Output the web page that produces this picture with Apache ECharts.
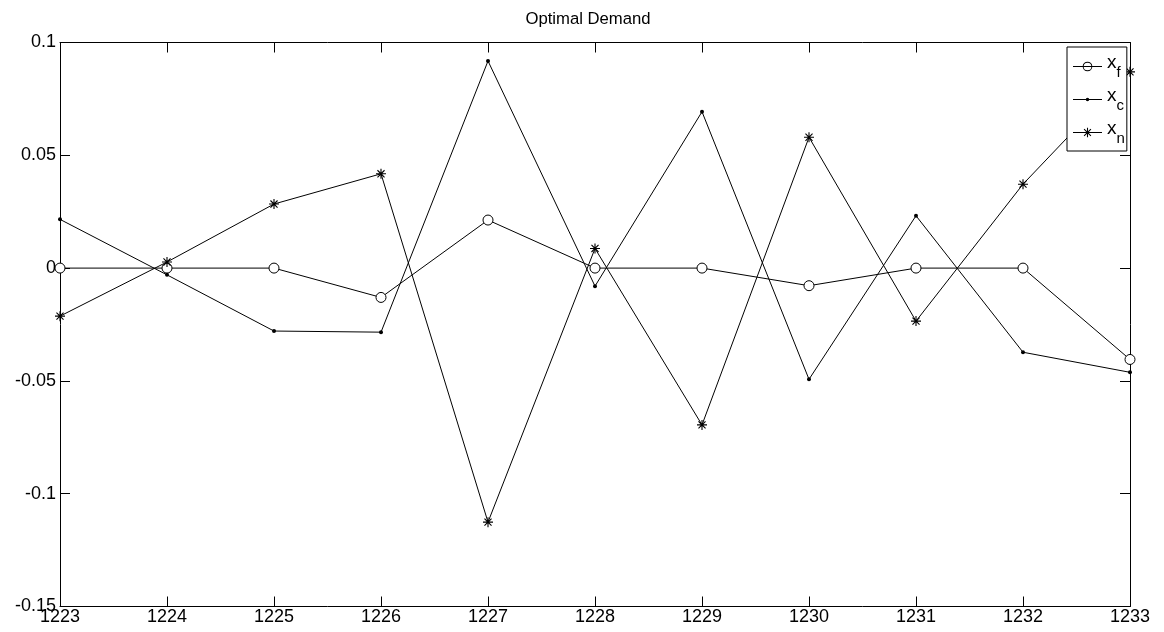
<!DOCTYPE html>
<html>
<head>
<meta charset="utf-8">
<title>Optimal Demand</title>
<script src="https://cdn.jsdelivr.net/npm/echarts@6/dist/echarts.min.js"></script>
<style>
  html, body { margin: 0; padding: 0; background: #fff; }
  #chart { width: 1164px; height: 632px; }
</style>
</head>
<body>
<div id="chart"></div>
<script>
// Periods on the horizontal axis
const periods = [1223, 1224, 1225, 1226, 1227, 1228, 1229, 1230, 1231, 1232, 1233];

// Demand series
const xF = [0, 0, 0, -0.013, 0.0213, 0, 0, -0.0078, 0, 0, -0.0405];
const xC = [0.0216, -0.003, -0.0279, -0.0284, 0.0918, -0.008, 0.0693, -0.0493, 0.0232, -0.0373, -0.0462];
const xN = [-0.0213, 0.0027, 0.0284, 0.0418, -0.1126, 0.0087, -0.0695, 0.058, -0.0235, 0.0372, 0.087];

// Axis ticks
const yTicks = [-0.15, -0.1, -0.05, 0, 0.05, 0.1];
const yTickLabels = ['-0.15', '-0.1', '-0.05', '0', '0.05', '0.1'];

const seriesNames = ['x_f', 'x_c', 'x_n'];
const subscripts = { x_f: 'f', x_c: 'c', x_n: 'n' };

const font = 'Liberation Sans, Arial, Helvetica, sans-serif';

// --- marker shapes as filled paths ---
function fmt(n) { return (Math.round(n * 100) / 100).toString(); }

// eight-armed star: four thin bars crossing at (cx, cy), all wound the same way
function starPath(cx, cy, r, w) {
  let d = '';
  const angles = [0, Math.PI / 4, Math.PI / 2, 3 * Math.PI / 4];
  angles.forEach(a => {
    const ux = Math.cos(a), uy = Math.sin(a);
    const px = -uy * w, py = ux * w;
    const pts = [
      [cx - ux * r - px, cy - uy * r - py],
      [cx + ux * r - px, cy + uy * r - py],
      [cx + ux * r + px, cy + uy * r + py],
      [cx - ux * r + px, cy - uy * r + py]
    ];
    d += 'M' + pts.map(p => fmt(p[0]) + ' ' + fmt(p[1])).join('L') + 'Z';
  });
  return d;
}
// horizontal bar used as the line sample in the legend
function barPath(x0, x1, cy, h) {
  return 'M' + x0 + ' ' + fmt(cy - h / 2) + 'L' + x1 + ' ' + fmt(cy - h / 2) +
    'L' + x1 + ' ' + fmt(cy + h / 2) + 'L' + x0 + ' ' + fmt(cy + h / 2) + 'Z';
}
// ring (outer clockwise, inner counter-clockwise)
function ringPath(cx, cy, r, t) {
  const ri = r - t;
  return 'M' + fmt(cx + r) + ' ' + cy + 'A' + r + ' ' + r + ' 0 1 1 ' + fmt(cx - r) + ' ' + cy +
    'A' + r + ' ' + r + ' 0 1 1 ' + fmt(cx + r) + ' ' + cy + 'Z' +
    'M' + fmt(cx + ri) + ' ' + cy + 'A' + ri + ' ' + ri + ' 0 1 0 ' + fmt(cx - ri) + ' ' + cy +
    'A' + ri + ' ' + ri + ' 0 1 0 ' + fmt(cx + ri) + ' ' + cy + 'Z';
}
function dotPath(cx, cy, r) {
  return 'M' + fmt(cx + r) + ' ' + cy + 'A' + r + ' ' + r + ' 0 1 1 ' + fmt(cx - r) + ' ' + cy +
    'A' + r + ' ' + r + ' 0 1 1 ' + fmt(cx + r) + ' ' + cy + 'Z';
}

const asterisk = 'path://' + starPath(10, 10, 10, 1.1);

// legend samples: line with the series marker in the middle (30 x 10 box)
const legendIcons = {
  x_f: 'path://' + barPath(0, 30, 5, 1) + ringPath(15, 5, 5, 1),
  x_c: 'path://' + barPath(0, 30, 5, 1) + dotPath(15, 5, 1.8),
  x_n: 'path://' + barPath(0, 30, 5, 1) + starPath(15, 5, 5, 0.55)
};

const pair = arr => periods.map((p, i) => [p, arr[i]]);

function yLabel(v) {
  for (let i = 0; i < yTicks.length; i++) {
    if (Math.abs(v - yTicks[i]) < 1e-9) return yTickLabels[i];
  }
  return '';
}

const chart = echarts.init(document.getElementById('chart'), null, { renderer: 'canvas' });

const lineStyle = { color: '#000', width: 1 };
const tickCommon = { show: true, inside: true, length: 10, lineStyle: { color: '#000', width: 1 } };
const axisLineStyle = { show: true, onZero: false, lineStyle: { color: '#000', width: 1 } };

chart.setOption({
  backgroundColor: '#fff',
  animation: false,
  color: ['#000', '#000', '#000'],
  textStyle: { fontFamily: font },
  title: {
    text: 'Optimal Demand',
    left: 583,
    top: 6,
    textAlign: 'center',
    textStyle: { fontFamily: font, fontSize: 16.7, fontWeight: 'normal', color: '#000' }
  },
  legend: {
    orient: 'vertical',
    left: 1067,
    top: 47,
    padding: [6, 2, 5, 6],
    itemGap: 6,
    itemWidth: 29,
    itemHeight: 12,
    borderColor: '#000',
    borderWidth: 1,
    backgroundColor: '#fff',
    symbolKeepAspect: true,
    itemStyle: { color: '#000', borderWidth: 0 },
    data: seriesNames.map(n => ({ name: n, icon: legendIcons[n], itemStyle: { color: '#000', borderWidth: 0 } })),
    formatter: name => '{m|x}{s|' + subscripts[name] + '}',
    textStyle: {
      color: '#000',
      fontFamily: font,
      rich: {
        m: { fontSize: 19, fontFamily: font, color: '#000', padding: [0, 0, 8, 0] },
        s: { fontSize: 15, fontFamily: font, color: '#000', padding: [12, 0, 0, 0] }
      }
    }
  },
  grid: { left: 60, right: 34, top: 42.5, bottom: 25.5, containLabel: false },
  xAxis: [
    {
      type: 'value', position: 'bottom', min: 1223, max: 1233, interval: 1,
      axisLine: axisLineStyle,
      axisTick: tickCommon,
      axisLabel: { color: '#000', fontSize: 18, fontFamily: font, margin: 2, formatter: v => String(v) },
      splitLine: { show: false }
    },
    {
      type: 'value', position: 'top', min: 1223, max: 1233, interval: 1,
      axisLine: axisLineStyle,
      axisTick: tickCommon,
      axisLabel: { show: false },
      splitLine: { show: false }
    }
  ],
  yAxis: [
    {
      type: 'value', position: 'left', min: -0.15, max: 0.1, interval: 0.05,
      axisLine: axisLineStyle,
      axisTick: tickCommon,
      axisLabel: { color: '#000', fontSize: 18, fontFamily: font, margin: 4, formatter: yLabel },
      splitLine: { show: false }
    },
    {
      type: 'value', position: 'right', min: -0.15, max: 0.1, interval: 0.05,
      axisLine: axisLineStyle,
      axisTick: tickCommon,
      axisLabel: { show: false },
      splitLine: { show: false }
    }
  ],
  series: [
    {
      name: 'x_f', type: 'line', data: pair(xF),
      symbol: 'circle', symbolSize: 10, showAllSymbol: true,
      lineStyle: lineStyle,
      itemStyle: { color: '#fff', borderColor: '#000', borderWidth: 1 }
    },
    {
      name: 'x_c', type: 'line', data: pair(xC),
      symbol: 'circle', symbolSize: 4, showAllSymbol: true,
      lineStyle: lineStyle,
      itemStyle: { color: '#000', borderWidth: 0 }
    },
    {
      name: 'x_n', type: 'line', data: pair(xN),
      symbol: asterisk, symbolSize: 10, showAllSymbol: true,
      lineStyle: lineStyle,
      itemStyle: { color: '#000', borderWidth: 0 }
    }
  ]
});
</script>
</body>
</html>
